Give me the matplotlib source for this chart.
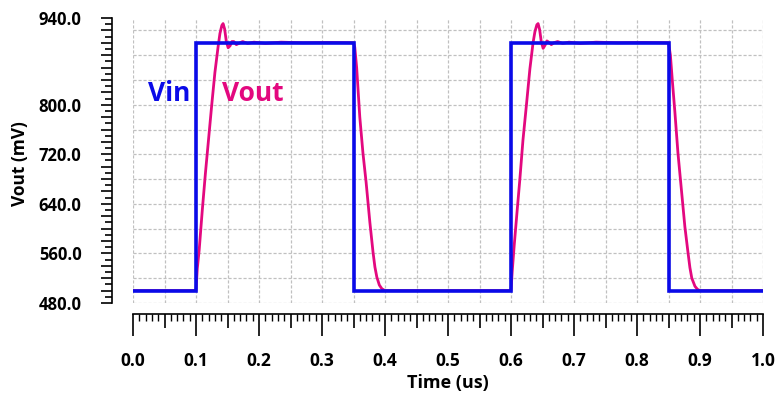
import matplotlib
matplotlib.use("Agg")
import matplotlib.pyplot as plt
from matplotlib.ticker import FixedLocator, FuncFormatter, MultipleLocator
import numpy as np

# ---------------- data ----------------
vin_t = [0.0, 0.1, 0.1, 0.35, 0.35, 0.6, 0.6, 0.85, 0.85, 1.0]
vin_mv = [500, 500, 900, 900, 500, 500, 900, 900, 500, 500]

vout_t = [0.000, 0.100, 0.102, 0.105, 0.110, 0.115, 0.120, 0.125, 0.130, 0.135,
          0.138, 0.141, 0.143, 0.1455, 0.148, 0.151, 0.154, 0.157, 0.160, 0.164,
          0.168, 0.174, 0.182, 0.192, 0.210, 0.235, 0.270, 0.310, 0.350,
          0.352, 0.355, 0.360, 0.365, 0.370, 0.376, 0.381, 0.384, 0.387, 0.391,
          0.395, 0.400, 0.600,
          0.602, 0.605, 0.610, 0.614, 0.619, 0.625, 0.630, 0.635,
          0.638, 0.641, 0.643, 0.6455, 0.648, 0.651, 0.654, 0.657, 0.660, 0.664,
          0.668, 0.674, 0.682, 0.692, 0.710, 0.735, 0.770, 0.810, 0.850,
          0.853, 0.856, 0.860, 0.865, 0.870, 0.876, 0.881, 0.884, 0.887, 0.892,
          0.896, 0.900, 1.000]
vout_mv = [500, 500, 535, 565, 630, 690, 745, 800, 852, 893,
           915, 928, 931, 922, 903, 892, 895, 902, 902, 897,
           899, 902, 899, 901, 899, 901, 900, 900.5, 900,
           893, 860, 780, 722, 675, 610, 562, 538, 522, 509,
           503, 500, 500,
           532, 572, 632, 679, 743, 805, 858, 900,
           918, 929, 931, 921, 902, 891, 896, 903, 901, 897,
           900, 902, 899, 901, 899, 901, 900, 900.5, 900,
           880, 840, 790, 722, 668, 603, 561, 537, 520, 507,
           502, 500, 500]

y_labeled = [480, 560, 640, 720, 800, 940]
x_labeled = [0.0, 0.1, 0.2, 0.3, 0.4, 0.5, 0.6, 0.7, 0.8, 0.9, 1.0]

vin_color = "#0a0ae8"
vout_color = "#e3087f"

# ---------------- figure ----------------
W, H = 776, 395
fig = plt.figure(figsize=(W / 100, H / 100), dpi=100)
plt.rcParams['font.family'] = ['Open Sans', 'DejaVu Sans']
ax = fig.add_axes([133 / W, 1 - 303 / H, 630 / W, 285 / H])
ax.set_xlim(0, 1.0)
ax.set_ylim(480, 940)

# grid
for gx in np.arange(0, 1.0001, 0.05):
    ax.axvline(gx, color="#c0c0c0", lw=0.9, dashes=(2.5, 1.5), zorder=0)
for gy in np.arange(480, 921, 40):
    ax.axhline(gy, color="#c0c0c0", lw=0.9, dashes=(2.5, 1.5), zorder=0)

ax.plot(vout_t, vout_mv, color=vout_color, lw=2.0, zorder=2)
ax.plot(vin_t, vin_mv, color=vin_color, lw=2.6, solid_joinstyle="miter", zorder=3)

ax.text(0.024, 806, "Vin", color=vin_color, fontsize=19, fontweight="bold",
        ha="left", va="baseline")
ax.text(0.142, 806, "Vout", color=vout_color, fontsize=19, fontweight="bold",
        ha="left", va="baseline")

# spines
for s in ["top", "right"]:
    ax.spines[s].set_visible(False)
ax.spines["left"].set_position(("outward", 15))
ax.spines["bottom"].set_position(("outward", 8))
ax.spines["left"].set_linewidth(1.2)
ax.spines["bottom"].set_linewidth(1.2)

# y ticks
ax.yaxis.set_major_locator(MultipleLocator(20))
ax.yaxis.set_minor_locator(MultipleLocator(10))
ax.yaxis.set_major_formatter(FuncFormatter(
    lambda v, p: f"{v:.1f}" if any(abs(v - l) < 1e-6 for l in y_labeled) else ""))
ax.tick_params(axis="y", which="major", length=8, width=1.2, pad=14, labelsize=12)
ax.tick_params(axis="y", which="minor", length=5, width=1.2)

# x ticks
ax.xaxis.set_major_locator(FixedLocator(np.round(np.arange(0, 1.0001, 0.05), 2)))
ax.xaxis.set_minor_locator(MultipleLocator(0.01))
ax.xaxis.set_major_formatter(FuncFormatter(
    lambda v, p: f"{v:.1f}" if any(abs(v - l) < 1e-6 for l in x_labeled) else ""))
ax.tick_params(axis="x", which="major", length=16, width=1.2, pad=11, labelsize=12.5)
ax.tick_params(axis="x", which="minor", length=5, width=1.0)
for tk, loc in zip(ax.xaxis.get_major_ticks(), ax.xaxis.get_majorticklocs()):
    if not any(abs(loc - l) < 1e-6 for l in x_labeled):
        tk.tick1line.set_markersize(10)

for lab in ax.get_xticklabels() + ax.get_yticklabels():
    lab.set_fontweight("bold")

ax.set_xlabel("Time (us)", fontsize=13, fontweight="bold", va="center")
ax.xaxis.set_label_coords(0.5, -(383 - 303) / 285)
ax.set_ylabel("Vout (mV)", fontsize=12.5, fontweight="bold", va="center")
ax.yaxis.set_label_coords((20 - 133) / 630, 0.49)

fig.savefig("out.png", dpi=100)
